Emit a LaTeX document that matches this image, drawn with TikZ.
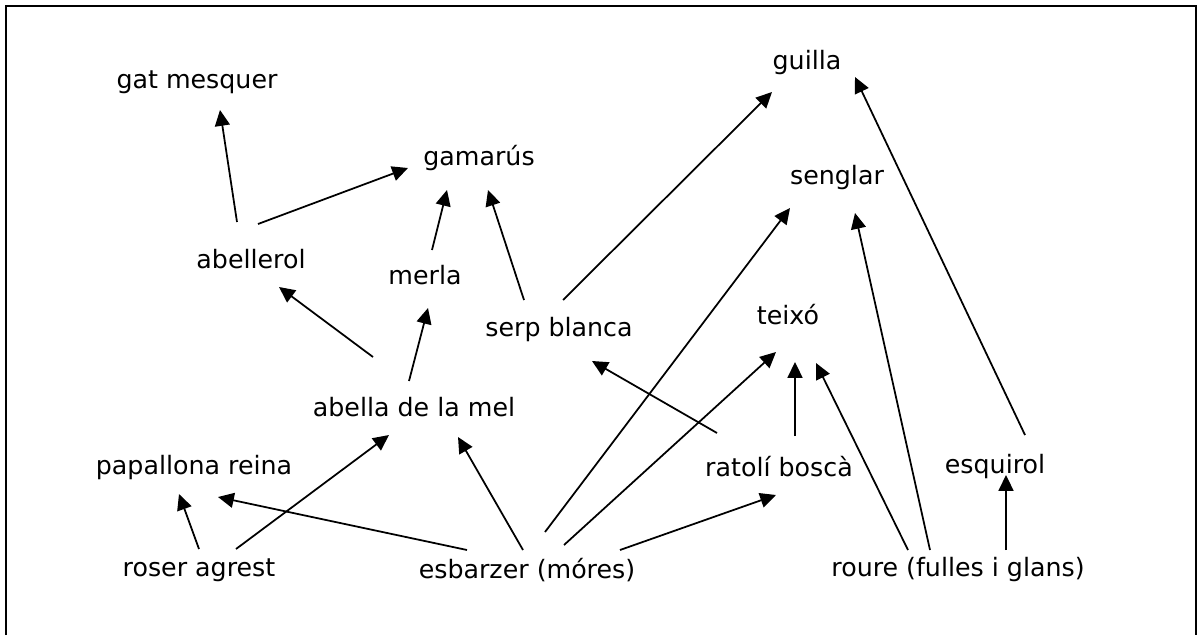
\documentclass[tikz,border=0pt]{standalone}
\usepackage{fontspec}
\setmainfont{DejaVu Sans}
\usetikzlibrary{arrows.meta,calc}

\tikzset{
  species/.style={inner sep=0pt, font=\fontsize{14.4}{17}\selectfont},
  eats/.style={-{Triangle[length=9pt,width=8.5pt]}, line width=1pt},
}

\begin{document}
\begin{tikzpicture}[x=0.02cm,y=-0.02cm]
  \useasboundingbox (0,0) rectangle (1199,635);
  \draw[line width=0.8pt] (6,635) -- (6,6) -- (1196,6) -- (1196,635);

  % top of the chain
  \node[species] (gat) at (197,82) {gat mesquer};
  \node[species] (gamarus) at (479,158) {gamarús};
  \node[species] (guilla) at (807,63) {guilla};
  \node[species] (senglar) at (837,178) {senglar};
  % middle
  \node[species] (abellerol) at (251,259) {abellerol};
  \node[species] (merla) at (425,275) {merla};
  \node[species] (serp) at (559,330) {serp blanca};
  \node[species] (teixo) at (788,315) {teixó};
  \node[species] (abella) at (414,407) {abella de la mel};
  \node[species] (papallona) at (194,468) {papallona reina};
  \node[species] (ratoli) at (779,467) {ratolí boscà};
  \node[species] (esquirol) at (995,467) {esquirol};
  % plants
  \node[species] (roser) at (199,570) {roser agrest};
  \node[species] (esbarzer) at (527,570) {esbarzer (móres)};
  \node[species] (roure) at (958,570) {roure (fulles i glans)};

  \draw[eats] ($(abellerol)+(-14,-37)$) -- ($(gat)+(23,28)$);
  \draw[eats] ($(abellerol)+(7,-35)$) -- ($(gamarus)+(-71,10)$);
  \draw[eats] ($(merla)+(7,-25)$) -- ($(gamarus)+(-32,32)$);
  \draw[eats] ($(serp)+(-35,-30)$) -- ($(gamarus)+(9,32)$);
  \draw[eats] ($(serp)+(4,-30)$) -- ($(guilla)+(-35,29)$);
  \draw[eats] ($(abella)+(-41,-50)$) -- ($(abellerol)+(28,28)$);
  \draw[eats] ($(abella)+(-5,-26)$) -- ($(merla)+(3,33)$);
  \draw[eats] ($(ratoli)+(-62,-34)$) -- ($(serp)+(33,31)$);
  \draw[eats] ($(roser)+(0,-21)$) -- ($(papallona)+(-15,26)$);
  \draw[eats] ($(roser)+(37,-21)$) -- ($(abella)+(-25,28)$);
  \draw[eats] ($(esbarzer)+(-60,-20)$) -- ($(papallona)+(24,29)$);
  \draw[eats] ($(esbarzer)+(-4,-20)$) -- ($(abella)+(44,30)$);
  \draw[eats] ($(esbarzer)+(18,-38)$) -- ($(senglar)+(-47,30)$);
  \draw[eats] ($(esbarzer)+(37,-25)$) -- ($(teixo)+(-12,37)$);
  \draw[eats] ($(esbarzer)+(93,-20)$) -- ($(ratoli)+(-3,28)$);
  \draw[eats] ($(ratoli)+(16,-31)$) -- ($(teixo)+(7,47)$);
  \draw[eats] ($(roure)+(-50,-20)$) -- ($(teixo)+(28,48)$);
  \draw[eats] ($(roure)+(-28,-20)$) -- ($(senglar)+(18,35)$);
  \draw[eats] ($(roure)+(48,-20)$) -- ($(esquirol)+(11,8)$);
  \draw[eats] ($(esquirol)+(30,-32)$) -- ($(guilla)+(48,14)$);
\end{tikzpicture}
\end{document}
